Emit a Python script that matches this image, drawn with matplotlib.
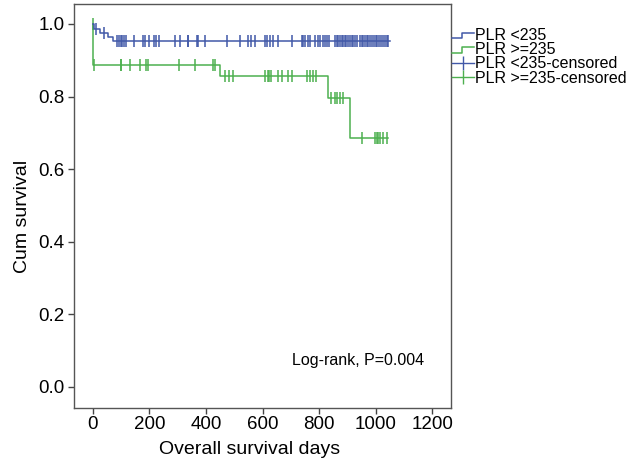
import numpy as np
import matplotlib
matplotlib.use("Agg")
import matplotlib.pyplot as plt
from matplotlib.lines import Line2D
from matplotlib.legend_handler import HandlerBase

plt.rcParams['font.family'] = ['Liberation Sans', 'DejaVu Sans']

# ---- data ----
blue_label = "PLR <235"
green_label = "PLR >=235"
blue_event_times = [0, 2, 25, 54, 72]
blue_surv = [1.0, 0.985, 0.975, 0.963, 0.952]
blue_end = 1050
blue_censor = [12, 40, 86, 92, 98, 104, 111, 117, 145, 176, 184, 199, 216, 222, 232,
               290, 308, 335, 338, 367, 373, 396, 473, 520, 550, 558, 573, 609, 617,
               626, 638, 656, 703, 738, 744, 750, 762, 768, 786, 797, 803, 813, 821,
               827, 836, 856, 862, 868, 874, 880, 886, 891, 897, 903, 909, 915, 921,
               927, 933, 945, 951, 957, 963, 968, 975, 981, 987, 993, 1000, 1006,
               1012, 1020, 1027, 1033, 1040, 1045]

green_event_times = [0, 1, 449, 833, 911]
green_surv = [1.0, 0.887, 0.858, 0.797, 0.685]
green_end = 1045
green_censor = [0, 4, 98, 101, 131, 166, 188, 196, 305, 361, 426, 432, 467, 482, 496,
                609, 620, 624, 629, 656, 668, 691, 703, 756, 768, 780, 791, 844, 856,
                862, 874, 886, 951, 998, 1004, 1009, 1015, 1027, 1039]

x_ticks = [0, 200, 400, 600, 800, 1000, 1200]
y_ticks = [0.0, 0.2, 0.4, 0.6, 0.8, 1.0]

BLUE = "#4158A8"
GREEN = "#4DB04F"

fig = plt.figure(figsize=(6.31, 4.65), dpi=100)
ax = fig.add_axes([74/631, 1-408/465, (451-74)/631, (408-4)/465])


def draw_curve(times, surv, end, censor, color):
    t = list(times) + [end]
    s = list(surv) + [surv[-1]]
    ax.step(t, s, where='post', color=color, lw=1.1)
    idx = np.searchsorted(np.array(times), np.array(censor), side='right') - 1
    levels = np.array(surv)[idx]
    ax.plot(censor, levels, linestyle='none', marker='|', markersize=8,
            markeredgewidth=1.1, color=color)


draw_curve(green_event_times, green_surv, green_end, green_censor, GREEN)
draw_curve(blue_event_times, blue_surv, blue_end, blue_censor, BLUE)

ax.set_xlim(-67, 1267)
ax.set_ylim(-0.058, 1.055)
ax.set_xticks(x_ticks)
ax.set_yticks(y_ticks)
ax.set_yticklabels([f"{v:.1f}" for v in y_ticks])
ax.tick_params(axis='both', direction='out', length=4, width=1, color='#444444',
               labelsize=13.5, pad=3)
ax.tick_params(axis='x', pad=2)
for sp in ax.spines.values():
    sp.set_color('#555555')
    sp.set_linewidth(1.0)

ax.set_xlabel("Overall survival days", fontsize=14)
ax.set_ylabel("Cum survival", fontsize=14)
ax.xaxis.set_label_coords((250-74)/377, -(449-408)/404)
ax.xaxis.label.set_va('center')
ax.yaxis.set_label_coords(-(74-23)/377, (408-216)/404)
ax.yaxis.label.set_va('center')

ax.text(1171, 0.074, "Log-rank, P=0.004", ha='right', va='center', fontsize=11.5)


class StepHandler(HandlerBase):
    def create_artists(self, legend, orig_handle, xdescent, ydescent, width,
                       height, fontsize, trans):
        x0 = -xdescent
        xm = x0 + width * 0.45
        x1 = x0 + width
        y0 = -ydescent + height * 0.15
        y1 = -ydescent + height * 0.65
        line = Line2D([x0, xm, xm, x1], [y0, y0, y1, y1],
                      color=orig_handle.get_color(), lw=1.1, transform=trans)
        return [line]


h1 = Line2D([], [], color=BLUE)
h2 = Line2D([], [], color=GREEN)
h3 = Line2D([], [], color=BLUE, marker='|', markersize=10, lw=1.0, mew=1.0)
h4 = Line2D([], [], color=GREEN, marker='|', markersize=10, lw=1.0, mew=1.0)
leg = ax.legend([h1, h2, h3, h4],
                [blue_label, green_label, blue_label + "-censored", green_label + "-censored"],
                handler_map={h1: StepHandler(), h2: StepHandler()},
                loc='upper left', bbox_to_anchor=(452/631, 1-28/465),
                bbox_transform=fig.transFigure, frameon=False, fontsize=11.5,
                labelspacing=-0.05, handlelength=1.35, handletextpad=0.1,
                borderpad=0, borderaxespad=0, numpoints=1)

fig.savefig("out.png", dpi=100)
